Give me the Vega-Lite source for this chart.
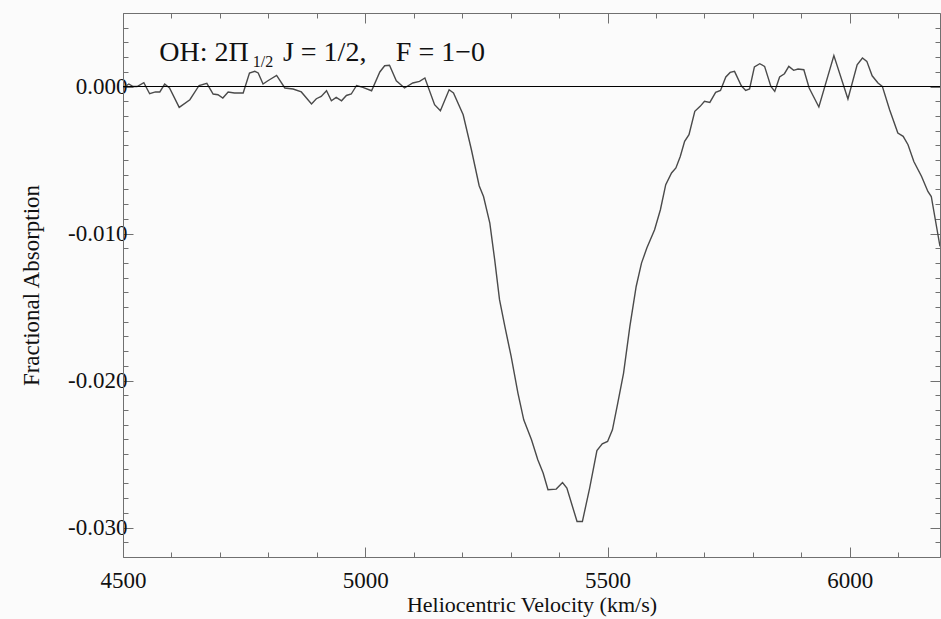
{
  "$schema": "https://vega.github.io/schema/vega-lite/v6.json",
  "width": 817,
  "height": 544,
  "autosize": "none",
  "padding": {"left": 123, "top": 13, "right": 1, "bottom": 62},
  "background": "#fbfbfb",
  "config": {
    "font": "Liberation Serif",
    "view": {"stroke": null},
    "axis": {
      "grid": false,
      "domainColor": "#707070",
      "tickColor": "#707070",
      "domainWidth": 1,
      "tickWidth": 1,
      "labelColor": "#111111",
      "labelFontSize": 23,
      "labelFont": "Liberation Serif",
      "labelOverlap": false,
      "labelFlush": false,
      "titleColor": "#111111",
      "titleFont": "Liberation Serif",
      "titleFontSize": 22,
      "titleFontWeight": "normal"
    }
  },
  "datasets": {
    "spectrum": [
      {"velocity": 4500, "absorption": -0.00010},
      {"velocity": 4512, "absorption": 0.00017},
      {"velocity": 4521, "absorption": 0.00000},
      {"velocity": 4529, "absorption": 0.00000},
      {"velocity": 4543, "absorption": 0.00026},
      {"velocity": 4555, "absorption": -0.00049},
      {"velocity": 4567, "absorption": -0.00037},
      {"velocity": 4576, "absorption": -0.00037},
      {"velocity": 4586, "absorption": 0.00017},
      {"velocity": 4596, "absorption": -0.00010},
      {"velocity": 4616, "absorption": -0.00142},
      {"velocity": 4638, "absorption": -0.00090},
      {"velocity": 4657, "absorption": 0.00007},
      {"velocity": 4673, "absorption": 0.00021},
      {"velocity": 4686, "absorption": -0.00051},
      {"velocity": 4696, "absorption": -0.00056},
      {"velocity": 4706, "absorption": -0.00078},
      {"velocity": 4717, "absorption": -0.00037},
      {"velocity": 4730, "absorption": -0.00044},
      {"velocity": 4748, "absorption": -0.00044},
      {"velocity": 4761, "absorption": 0.00092},
      {"velocity": 4772, "absorption": 0.00103},
      {"velocity": 4779, "absorption": 0.00092},
      {"velocity": 4789, "absorption": 0.00017},
      {"velocity": 4799, "absorption": 0.00039},
      {"velocity": 4817, "absorption": 0.00076},
      {"velocity": 4834, "absorption": -0.00010},
      {"velocity": 4851, "absorption": -0.00017},
      {"velocity": 4868, "absorption": -0.00037},
      {"velocity": 4889, "absorption": -0.00119},
      {"velocity": 4899, "absorption": -0.00083},
      {"velocity": 4909, "absorption": -0.00067},
      {"velocity": 4920, "absorption": -0.00029},
      {"velocity": 4930, "absorption": -0.00097},
      {"velocity": 4940, "absorption": -0.00074},
      {"velocity": 4951, "absorption": -0.00097},
      {"velocity": 4961, "absorption": -0.00061},
      {"velocity": 4971, "absorption": -0.00051},
      {"velocity": 4982, "absorption": 0.00007},
      {"velocity": 4995, "absorption": -0.00006},
      {"velocity": 5013, "absorption": -0.00029},
      {"velocity": 5030, "absorption": 0.00099},
      {"velocity": 5040, "absorption": 0.00141},
      {"velocity": 5050, "absorption": 0.00144},
      {"velocity": 5064, "absorption": 0.00039},
      {"velocity": 5081, "absorption": -0.00010},
      {"velocity": 5098, "absorption": 0.00024},
      {"velocity": 5112, "absorption": 0.00035},
      {"velocity": 5123, "absorption": 0.00058},
      {"velocity": 5143, "absorption": -0.00124},
      {"velocity": 5155, "absorption": -0.00165},
      {"velocity": 5173, "absorption": -0.00022},
      {"velocity": 5182, "absorption": -0.00044},
      {"velocity": 5202, "absorption": -0.00192},
      {"velocity": 5219, "absorption": -0.00430},
      {"velocity": 5235, "absorption": -0.00675},
      {"velocity": 5244, "absorption": -0.00748},
      {"velocity": 5257, "absorption": -0.00929},
      {"velocity": 5267, "absorption": -0.01178},
      {"velocity": 5277, "absorption": -0.01450},
      {"velocity": 5288, "absorption": -0.01632},
      {"velocity": 5301, "absorption": -0.01836},
      {"velocity": 5315, "absorption": -0.02085},
      {"velocity": 5327, "absorption": -0.02267},
      {"velocity": 5343, "absorption": -0.02403},
      {"velocity": 5356, "absorption": -0.02539},
      {"velocity": 5367, "absorption": -0.02629},
      {"velocity": 5377, "absorption": -0.02743},
      {"velocity": 5394, "absorption": -0.02738},
      {"velocity": 5407, "absorption": -0.02693},
      {"velocity": 5416, "absorption": -0.02731},
      {"velocity": 5437, "absorption": -0.02959},
      {"velocity": 5448, "absorption": -0.02959},
      {"velocity": 5463, "absorption": -0.02731},
      {"velocity": 5478, "absorption": -0.02476},
      {"velocity": 5489, "absorption": -0.02430},
      {"velocity": 5500, "absorption": -0.02414},
      {"velocity": 5510, "absorption": -0.02335},
      {"velocity": 5521, "absorption": -0.02153},
      {"velocity": 5533, "absorption": -0.01949},
      {"velocity": 5546, "absorption": -0.01632},
      {"velocity": 5559, "absorption": -0.01360},
      {"velocity": 5570, "absorption": -0.01201},
      {"velocity": 5581, "absorption": -0.01099},
      {"velocity": 5597, "absorption": -0.00974},
      {"velocity": 5609, "absorption": -0.00838},
      {"velocity": 5620, "absorption": -0.00668},
      {"velocity": 5632, "absorption": -0.00588},
      {"velocity": 5641, "absorption": -0.00554},
      {"velocity": 5650, "absorption": -0.00476},
      {"velocity": 5659, "absorption": -0.00373},
      {"velocity": 5668, "absorption": -0.00328},
      {"velocity": 5680, "absorption": -0.00169},
      {"velocity": 5691, "absorption": -0.00135},
      {"velocity": 5700, "absorption": -0.00101},
      {"velocity": 5711, "absorption": -0.00108},
      {"velocity": 5723, "absorption": -0.00040},
      {"velocity": 5733, "absorption": -0.00027},
      {"velocity": 5744, "absorption": 0.00065},
      {"velocity": 5753, "absorption": 0.00096},
      {"velocity": 5762, "absorption": 0.00103},
      {"velocity": 5776, "absorption": 0.00005},
      {"velocity": 5785, "absorption": -0.00027},
      {"velocity": 5793, "absorption": -0.00017},
      {"velocity": 5803, "absorption": 0.00133},
      {"velocity": 5814, "absorption": 0.00155},
      {"velocity": 5824, "absorption": 0.00137},
      {"velocity": 5837, "absorption": 0.00001},
      {"velocity": 5845, "absorption": -0.00033},
      {"velocity": 5855, "absorption": 0.00065},
      {"velocity": 5865, "absorption": 0.00087},
      {"velocity": 5874, "absorption": 0.00137},
      {"velocity": 5884, "absorption": 0.00110},
      {"velocity": 5893, "absorption": 0.00119},
      {"velocity": 5905, "absorption": 0.00114},
      {"velocity": 5916, "absorption": -0.00010},
      {"velocity": 5936, "absorption": -0.00139},
      {"velocity": 5967, "absorption": 0.00210},
      {"velocity": 5996, "absorption": -0.00085},
      {"velocity": 6015, "absorption": 0.00148},
      {"velocity": 6026, "absorption": 0.00194},
      {"velocity": 6035, "absorption": 0.00171},
      {"velocity": 6046, "absorption": 0.00073},
      {"velocity": 6058, "absorption": 0.00024},
      {"velocity": 6067, "absorption": 0.00001},
      {"velocity": 6082, "absorption": -0.00158},
      {"velocity": 6099, "absorption": -0.00316},
      {"velocity": 6110, "absorption": -0.00339},
      {"velocity": 6120, "absorption": -0.00396},
      {"velocity": 6132, "absorption": -0.00510},
      {"velocity": 6148, "absorption": -0.00612},
      {"velocity": 6161, "absorption": -0.00714},
      {"velocity": 6168, "absorption": -0.00748},
      {"velocity": 6186, "absorption": -0.01088}
    ]
  },
  "layer": [
    {
      "data": {"name": "spectrum"},
      "mark": {"type": "line", "color": "#4a4a4a", "strokeWidth": 1.4, "clip": true},
      "encoding": {
        "x": {
          "field": "velocity",
          "type": "quantitative",
          "scale": {"domain": [4500, 6186], "nice": false, "zero": false},
          "axis": {
            "orient": "bottom",
            "values": [4500, 4600, 4700, 4800, 4900, 5000, 5100, 5200, 5300, 5400, 5500, 5600, 5700, 5800, 5900, 6000, 6100],
            "format": "d",
            "labelExpr": "datum.value % 500 === 0 ? datum.label : ''",
            "tickSize": {"condition": {"test": "datum.value % 500 === 0", "value": -10}, "value": -5},
            "labelPadding": 22,
            "title": "Heliocentric Velocity (km/s)",
            "titlePadding": -3
          }
        },
        "y": {
          "field": "absorption",
          "type": "quantitative",
          "scale": {"domain": [-0.032, 0.005], "nice": false, "zero": false},
          "axis": {
            "orient": "left",
            "values": [-0.032, -0.031, -0.030, -0.029, -0.028, -0.027, -0.026, -0.025, -0.024, -0.023, -0.022, -0.021, -0.020, -0.019, -0.018, -0.017, -0.016, -0.015, -0.014, -0.013, -0.012, -0.011, -0.010, -0.009, -0.008, -0.007, -0.006, -0.005, -0.004, -0.003, -0.002, -0.001, 0, 0.001, 0.002, 0.003, 0.004, 0.005],
            "labelExpr": "abs(round(datum.value * 1000)) % 10 === 0 ? replace(format(datum.value, '.3f'), '\u2212', '-') : ''",
            "tickSize": {"condition": {"test": "abs(round(datum.value * 1000)) % 10 === 0", "value": -10}, "value": -5},
            "labelPadding": 6,
            "title": "Fractional Absorption",
            "titleFontSize": 23,
            "titlePadding": 24
          }
        }
      }
    },
    {
      "data": {"name": "spectrum"},
      "mark": {"type": "line", "opacity": 0},
      "encoding": {
        "x": {
          "field": "velocity",
          "type": "quantitative",
          "axis": {
            "orient": "top",
            "values": [4500, 4600, 4700, 4800, 4900, 5000, 5100, 5200, 5300, 5400, 5500, 5600, 5700, 5800, 5900, 6000, 6100],
            "labels": false,
            "title": null,
            "tickSize": {"condition": {"test": "datum.value % 500 === 0", "value": -10}, "value": -5}
          }
        },
        "y": {
          "field": "absorption",
          "type": "quantitative",
          "axis": {
            "orient": "right",
            "values": [-0.032, -0.031, -0.030, -0.029, -0.028, -0.027, -0.026, -0.025, -0.024, -0.023, -0.022, -0.021, -0.020, -0.019, -0.018, -0.017, -0.016, -0.015, -0.014, -0.013, -0.012, -0.011, -0.010, -0.009, -0.008, -0.007, -0.006, -0.005, -0.004, -0.003, -0.002, -0.001, 0, 0.001, 0.002, 0.003, 0.004, 0.005],
            "labels": false,
            "title": null,
            "tickSize": {"condition": {"test": "abs(round(datum.value * 1000)) % 10 === 0", "value": -10}, "value": -5}
          }
        }
      }
    },
    {
      "data": {"values": [{}]},
      "mark": {"type": "rule", "color": "#000000", "strokeWidth": 1.1},
      "encoding": {"y": {"datum": 0, "type": "quantitative", "axis": null}}
    },
    {
      "data": {"values": [{}]},
      "mark": {"type": "text", "align": "left", "baseline": "alphabetic", "fontSize": 28, "color": "#111111"},
      "encoding": {
        "x": {"datum": 4575, "type": "quantitative", "axis": null},
        "y": {"datum": 0.00171, "type": "quantitative", "axis": null},
        "text": {"value": "OH: 2Π"}
      }
    },
    {
      "data": {"values": [{}]},
      "mark": {"type": "text", "align": "left", "baseline": "alphabetic", "fontSize": 16, "color": "#111111"},
      "encoding": {
        "x": {"datum": 4768, "type": "quantitative", "axis": null},
        "y": {"datum": 0.00133, "type": "quantitative", "axis": null},
        "text": {"value": "1/2"}
      }
    },
    {
      "data": {"values": [{}]},
      "mark": {"type": "text", "align": "left", "baseline": "alphabetic", "fontSize": 28, "color": "#111111"},
      "encoding": {
        "x": {"datum": 4830, "type": "quantitative", "axis": null},
        "y": {"datum": 0.00171, "type": "quantitative", "axis": null},
        "text": {"value": "J = 1/2,"}
      }
    },
    {
      "data": {"values": [{}]},
      "mark": {"type": "text", "align": "left", "baseline": "alphabetic", "fontSize": 28, "color": "#111111"},
      "encoding": {
        "x": {"datum": 5063, "type": "quantitative", "axis": null},
        "y": {"datum": 0.00171, "type": "quantitative", "axis": null},
        "text": {"value": "F = 1−0"}
      }
    }
  ],
  "resolve": {"axis": {"x": "independent", "y": "independent"}}
}
